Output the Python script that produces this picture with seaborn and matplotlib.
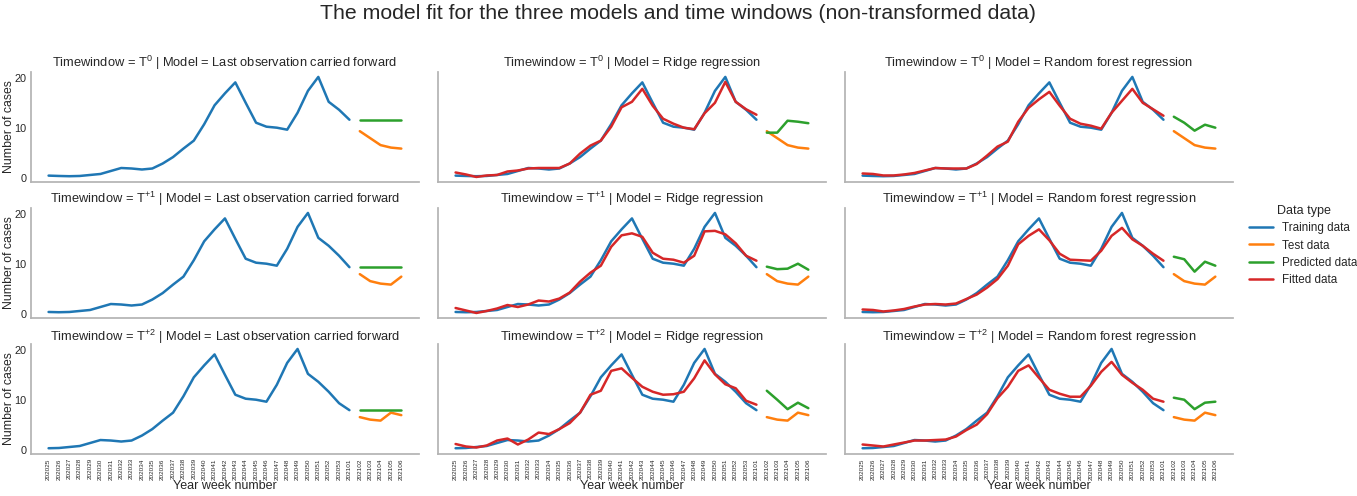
import matplotlib
matplotlib.use("Agg")
import matplotlib.pyplot as plt
import numpy as np
import pandas as pd
import seaborn as sns

# ---------------- data ----------------
weeks = ["202025", "202026", "202027", "202028", "202029", "202030", "202031",
         "202032", "202033", "202034", "202035", "202036", "202037", "202038",
         "202039", "202040", "202041", "202042", "202043", "202044", "202045",
         "202046", "202047", "202048", "202049", "202050", "202051", "202052",
         "202053", "202101", "202102", "202103", "202104", "202105", "202106"]

# observed weekly cases; each time window is the same series shifted by its offset
observed_cases = [0.47, 0.4, 0.35, 0.4, 0.6, 0.8, 1.4, 2.0, 1.9, 1.7, 1.9, 2.9,
                  4.2, 5.9, 7.5, 10.8, 14.6, 17.0, 19.2, 15.1, 11.1, 10.3, 10.1,
                  9.7, 13.1, 17.5, 20.3, 15.3, 13.7, 11.7, 9.4, 8.0, 6.6, 6.1,
                  5.9, 7.5, 7.0]

windows = ["T$^{0}$", "T$^{+1}$", "T$^{+2}$"]
window_offset = [0, 1, 2]
models = ["Last observation carried forward", "Ridge regression",
          "Random forest regression"]
data_types = ["Training data", "Test data", "Predicted data", "Fitted data"]

locf_pred_T0 = [11.7, 11.7, 11.7, 11.7, 11.7]
locf_pred_T1 = [9.4, 9.4, 9.4, 9.4, 9.4]
locf_pred_T2 = [8.0, 8.0, 8.0, 8.0, 8.0]

ridge_fit_T0 = [1.1, 0.7, 0.2, 0.5, 0.6, 1.3, 1.5, 1.9, 2.0, 2.0, 2.0, 2.9, 4.9,
                6.5, 7.5, 10.3, 14.2, 15.3, 17.9, 14.5, 11.9, 10.9, 10.1, 9.8,
                13.0, 15.1, 19.3, 15.3, 13.8, 12.7]
ridge_pred_T0 = [9.1, 9.1, 11.5, 11.3, 11.0]
ridge_fit_T1 = [1.2, 0.7, 0.2, 0.6, 1.1, 1.8, 1.4, 1.9, 2.7, 2.5, 3.1, 4.3, 6.5,
                8.3, 9.7, 13.5, 15.8, 16.2, 15.5, 12.3, 11.1, 10.9, 10.3, 11.7,
                16.6, 16.7, 16.0, 14.2, 11.7, 10.7]
ridge_pred_T1 = [9.5, 9.0, 9.1, 10.1, 8.9]
ridge_fit_T2 = [1.2, 0.7, 0.5, 0.9, 1.9, 2.3, 1.1, 2.1, 3.5, 3.2, 4.2, 5.4, 7.5,
                11.1, 11.9, 15.9, 16.4, 14.5, 12.7, 11.7, 11.1, 11.2, 11.7, 14.4,
                18.0, 15.2, 13.2, 12.4, 9.9, 9.1]
ridge_pred_T2 = [11.9, 10.1, 8.2, 9.5, 8.4]

rf_fit_T0 = [0.9, 0.8, 0.5, 0.5, 0.7, 1.0, 1.5, 2.0, 1.9, 1.9, 1.9, 2.8, 4.5,
             6.3, 7.3, 11.3, 14.1, 15.8, 17.3, 14.5, 11.9, 10.9, 10.5, 9.9,
             13.1, 15.5, 17.9, 15.1, 13.8, 12.5]
rf_pred_T0 = [12.3, 11.1, 9.5, 10.7, 10.1]
rf_fit_T1 = [0.9, 0.8, 0.5, 0.7, 1.0, 1.5, 1.9, 2.0, 1.9, 2.1, 3.0, 3.9, 5.3,
             7.0, 9.7, 14.0, 15.7, 17.0, 14.8, 12.1, 10.9, 10.8, 10.7, 12.7,
             15.7, 17.3, 15.0, 13.7, 12.1, 10.7]
rf_pred_T1 = [11.5, 11.0, 8.5, 10.5, 9.7]
rf_fit_T2 = [1.1, 0.9, 0.7, 1.1, 1.5, 1.9, 1.9, 2.0, 2.1, 2.7, 4.0, 5.1, 7.2,
             10.4, 12.7, 15.9, 17.0, 14.5, 12.1, 11.3, 10.7, 10.7, 12.9, 15.7,
             17.7, 15.1, 13.5, 12.1, 10.3, 9.7]
rf_pred_T2 = [10.5, 10.1, 8.2, 9.5, 9.7]

predicted = {
    models[0]: [locf_pred_T0, locf_pred_T1, locf_pred_T2],
    models[1]: [ridge_pred_T0, ridge_pred_T1, ridge_pred_T2],
    models[2]: [rf_pred_T0, rf_pred_T1, rf_pred_T2],
}
fitted = {
    models[1]: [ridge_fit_T0, ridge_fit_T1, ridge_fit_T2],
    models[2]: [rf_fit_T0, rf_fit_T1, rf_fit_T2],
}

n_train = 30
train_weeks = weeks[:n_train]
test_weeks = weeks[n_train:]

rows = []
for wi, (win, off) in enumerate(zip(windows, window_offset)):
    train_vals = observed_cases[off:off + n_train]
    test_vals = observed_cases[off + n_train:off + n_train + len(test_weeks)]
    for m in models:
        for w, v in zip(train_weeks, train_vals):
            rows.append((win, m, "Training data", w, v))
        for w, v in zip(test_weeks, test_vals):
            rows.append((win, m, "Test data", w, v))
        for w, v in zip(test_weeks, predicted[m][wi]):
            rows.append((win, m, "Predicted data", w, v))
        if m in fitted:
            for w, v in zip(train_weeks, fitted[m][wi]):
                rows.append((win, m, "Fitted data", w, v))

df = pd.DataFrame(rows, columns=["Timewindow", "Model", "Data type",
                                 "Year week number", "Number of cases"])

# ---------------- style ----------------
sns.set_theme(style="white", rc={"axes.edgecolor": "0.7"})
plt.rcParams["font.family"] = ["Liberation Sans", "DejaVu Sans"]
plt.rcParams["mathtext.default"] = "regular"

palette = {"Training data": "#1f77b4", "Test data": "#ff7f0e",
           "Predicted data": "#2ca02c", "Fitted data": "#d62728"}

g = sns.relplot(data=df, x="Year week number", y="Number of cases",
                hue="Data type", hue_order=data_types, palette=palette,
                row="Timewindow", col="Model", row_order=windows,
                col_order=models, kind="line", linewidth=1.8,
                height=1.5, aspect=3.5,
                facet_kws=dict(sharex=True, sharey=True))

g.set_titles("Timewindow = {row_name} | Model = {col_name}", size=9.3, pad=2)
fig = g.figure
fig.set_size_inches(13.57, 4.96)
fig.subplots_adjust(left=0.0228, right=0.9086, top=0.855, bottom=0.0847,
                    wspace=0.049, hspace=0.236)

for ax in g.axes.flat:
    ax.tick_params(axis="y", labelsize=7.8, pad=3, length=0)
    ax.tick_params(axis="x", labelsize=4.6, labelrotation=90, pad=3, length=0)
    ax.set_yticks([0, 10, 20])
    ax.xaxis.label.set_size(9)
    ax.yaxis.label.set_size(8.8)
    ax.xaxis.labelpad = 0
    ax.yaxis.labelpad = 0

sns.move_legend(g, "center left", bbox_to_anchor=(0.913, 0.505),
                frameon=False, fontsize=8.4, title_fontsize=9,
                labelspacing=0.45)

fig.suptitle("The model fit for the three models and time windows (non-transformed data)",
             fontsize=15.3, y=0.992, va="top")

fig.savefig("out.png", dpi=100)
